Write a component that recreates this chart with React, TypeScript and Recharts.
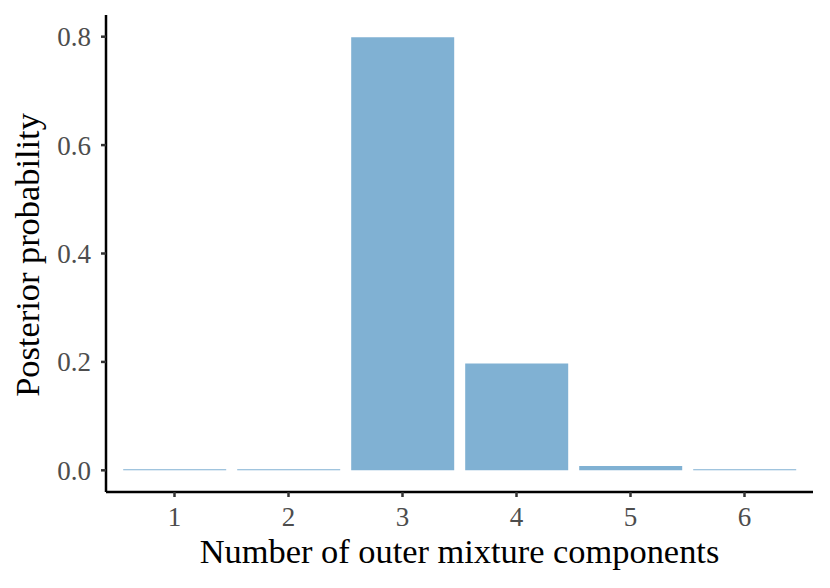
import { BarChart, Bar, XAxis, YAxis, Label } from 'recharts';

const components = ['1', '2', '3', '4', '5', '6'];
const posterior = [0.002, 0.002, 0.799, 0.197, 0.008, 0.002];
const yTicks = [0, 0.2, 0.4, 0.6, 0.8];

const data = components.map((c, i) => ({ k: c, p: posterior[i] }));

const FONT = 'Liberation Serif';

export default function App() {
  return (
    <div style={{ position: 'absolute', left: 0, top: 0, background: '#fff' }}>
      <BarChart
        width={830}
        height={588}
        data={data}
        margin={{ top: 15, right: 17, bottom: 0, left: 0 }}
        barCategoryGap="5%"
      >
        <XAxis
          dataKey="k"
          height={96}
          padding={{ left: 11.5, right: 11.5 }}
          axisLine={{ stroke: '#000', strokeWidth: 2.5 }}
          tickLine={{ stroke: '#333', strokeWidth: 2.5 }}
          tickSize={5}
          tickMargin={10}
          tick={{ fill: '#4d4d4d', fontSize: 27, fontFamily: FONT }}
        >
          <Label
            content={(props: any) => {
              const vb = props.viewBox;
              return (
                <text x={vb.x + vb.width / 2} y={563} textAnchor="middle" fontSize={34.4} fontFamily={FONT} fill="#000">
                  Number of outer mixture components
                </text>
              );
            }}
          />
        </XAxis>
        <YAxis
          type="number"
          width={106}
          domain={[-0.04, 0.84]}
          ticks={yTicks}
          allowDataOverflow
          tickFormatter={(v: number) => v.toFixed(1)}
          axisLine={{ stroke: '#000', strokeWidth: 2.5 }}
          tickLine={{ stroke: '#333', strokeWidth: 2.5 }}
          tickSize={5}
          tickMargin={10}
          tick={{ fill: '#4d4d4d', fontSize: 27, fontFamily: FONT }}
        >
          <Label
            content={() => (
              <text x={39} y={255} transform="rotate(-90, 39, 255)" textAnchor="middle" fontSize={34.4} fontFamily={FONT} fill="#000">
                Posterior probability
              </text>
            )}
          />
        </YAxis>
        <Bar dataKey="p" fill="#80b1d3" isAnimationActive={false} />
      </BarChart>
    </div>
  );
}
